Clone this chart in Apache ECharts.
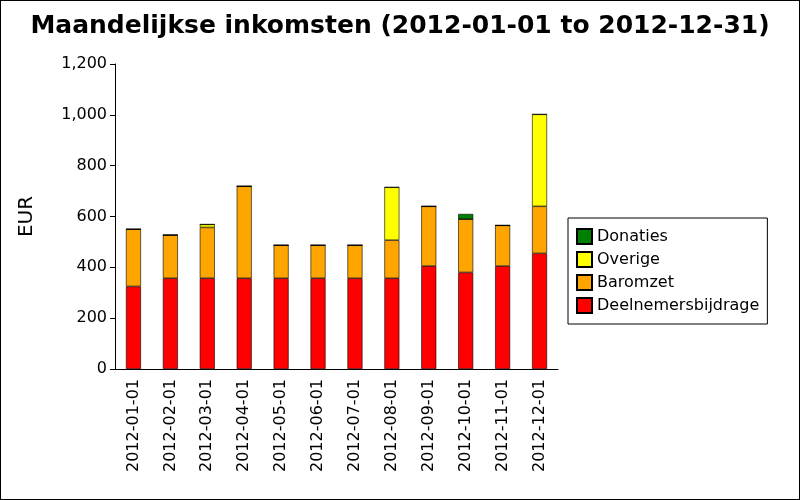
<!DOCTYPE html>
<html><head><meta charset="utf-8">
<script src="https://cdn.jsdelivr.net/npm/echarts@6/dist/echarts.min.js"></script>
<style>html,body{margin:0;padding:0;}#c{width:800px;height:500px;box-sizing:border-box;border:1px solid #000;}</style>
</head><body><div id="c"></div>
<script>
const categories=['2012-01-01','2012-02-01','2012-03-01','2012-04-01','2012-05-01','2012-06-01','2012-07-01','2012-08-01','2012-09-01','2012-10-01','2012-11-01','2012-12-01'];
const deelnemers=[325,357,357,357,357,357,357,357,405,380,405,455];
const baromzet=[225,170,200,362,130,130,130,150,235,210,160,185];
const overige=[0,0,12,0,0,0,0,208,0,0,0,362];
const donaties=[0,0,0,0,0,0,0,0,0,20,0,0];
const yTicks={min:0,max:1200,interval:200};
const font='DejaVu Sans';
const chart=echarts.init(document.getElementById('c'));
function s(name,data,color){return {name,type:'bar',stack:'a',data,barWidth:15,itemStyle:{color,borderColor:'#000',borderWidth:0.6}};}
chart.setOption({
 animation:false,
 title:{text:'Maandelijkse inkomsten (2012-01-01 to 2012-12-31)',left:'center',top:8,textStyle:{fontFamily:font,fontSize:25,fontWeight:'bold',color:'#000'}},
 grid:{left:114,top:63,width:443,height:305},
 legend:{orient:'vertical',left:567,top:217,width:222,padding:[10,8,10,8],itemGap:6,borderColor:'#000',borderWidth:1,icon:'rect',itemWidth:15,itemHeight:15,
  data:['Donaties','Overige','Baromzet','Deelnemersbijdrage'],textStyle:{fontFamily:font,fontSize:16,color:'#000'}},
 xAxis:{type:'category',data:categories,axisLine:{lineStyle:{color:'#000'}},axisTick:{lineStyle:{color:'#000'},length:8},
  axisLabel:{rotate:90,fontFamily:font,fontSize:16,color:'#000',margin:10}},
 yAxis:{type:'value',min:yTicks.min,max:yTicks.max,interval:yTicks.interval,name:'EUR',nameLocation:'middle',nameGap:78,
  nameTextStyle:{fontFamily:font,fontSize:20,color:'#000'},splitLine:{show:false},
  axisLine:{show:true,lineStyle:{color:'#000'}},axisTick:{show:true,lineStyle:{color:'#000'}},
  axisLabel:{fontFamily:font,fontSize:16,color:'#000'}},
 series:[s('Deelnemersbijdrage',deelnemers,'#ff0000'),s('Baromzet',baromzet,'#ffa500'),s('Overige',overige,'#ffff00'),s('Donaties',donaties,'#008000')]
});
</script></body></html>
